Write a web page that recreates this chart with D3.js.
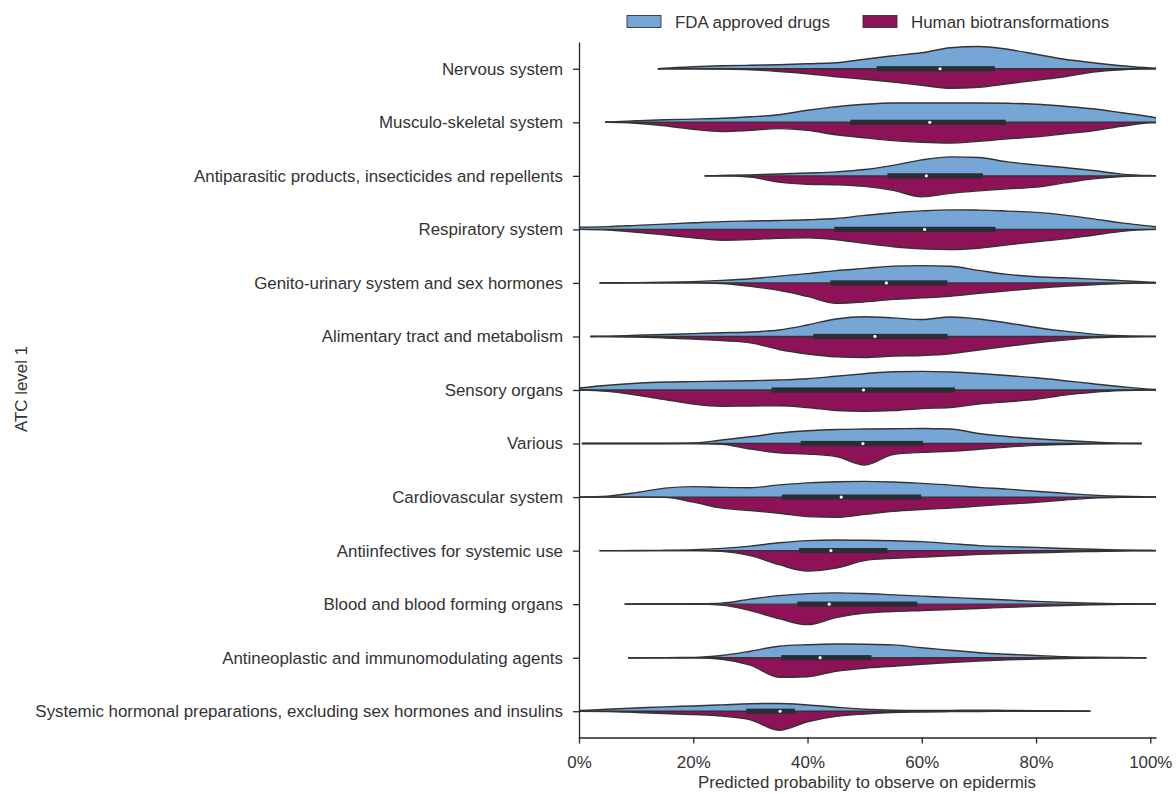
<!DOCTYPE html>
<html><head><meta charset="utf-8">
<script src="https://cdn.jsdelivr.net/npm/d3@7"></script>
<style>
body{margin:0;background:#fff}
svg{display:block;font-family:"Liberation Sans",Arial,sans-serif}
</style>
</head><body>
<svg id="chart" width="1176" height="794"></svg>
<script>
// ---------------- data ----------------
const categories = [
  "Nervous system",
  "Musculo-skeletal system",
  "Antiparasitic products, insecticides and repellents",
  "Respiratory system",
  "Genito-urinary system and sex hormones",
  "Alimentary tract and metabolism",
  "Sensory organs",
  "Various",
  "Cardiovascular system",
  "Antiinfectives for systemic use",
  "Blood and blood forming organs",
  "Antineoplastic and immunomodulating agents",
  "Systemic hormonal preparations, excluding sex hormones and insulins"
];
const seriesNames = ["FDA approved drugs", "Human biotransformations"];
// probability grid at which the densities were read (0%,5%,...,100%)
const gridX = [0,0.05,0.1,0.15,0.2,0.25,0.3,0.35,0.4,0.45,0.5,0.55,0.6,0.65,0.7,0.75,0.8,0.85,0.9,0.95,1.0];
// relative density (half-violin width) of FDA approved drugs
const fdaDensity = [
  [0,0,0,0.5,2,3,3.5,4,5,6,9.5,13,16,21,22.3,19.5,14.5,9.5,6,3,0.8],
  [0,0.3,1.5,2.5,3.2,4,5.5,7.5,12,15.5,18,19.3,19.3,19.3,19.3,19,18,16,13.5,9.5,5.5],
  [0,0,0,0,0,0.4,1,1.8,2.8,4,6.3,10.5,16,19,18.3,14,11,8.3,5.3,1.7,0.3],
  [2.3,2.8,4,5.3,6.6,7.8,8.4,8.9,9.6,10.9,14,16.7,18.5,19.5,19.3,18.3,17,14.3,10.5,6.5,3.3],
  [0,0.1,0.3,0.6,1.3,2.5,4.2,6.8,9.3,12.3,14.5,16.8,17.3,16.6,12.5,8.5,6.1,5.1,3.8,2.3,0.8],
  [0,0.3,1.2,2,2.8,3.7,4.4,6.5,11.5,17.5,19.7,18.6,17,19.5,17.5,13.5,9,5.3,2.3,0.7,0.1],
  [2,4.8,6.8,8,8.4,8.8,9.2,10,11.3,13.8,16.3,18.3,18.6,18,16.5,14.5,12.2,9.3,6.2,3.3,0.9],
  [0,0,0,0.1,0.5,3.5,6.8,10.5,12.8,14.1,14.5,14.8,15,14.5,10,7,4.8,3,1.5,0.2,0],
  [0,1,4.5,9,10.5,9.7,9.4,12.2,14.2,15.4,15.7,15.1,13.7,12,9.7,8,5.8,3.8,2,0.8,0.2],
  [0,0,0.1,0.3,0.8,2.2,4.5,7.8,10,10.6,10.3,9.8,9,7,5,4,3.2,2.1,1.3,0.7,0.3],
  [0,0,0.1,0.2,0.4,1,5,8.5,10.5,11.3,10.6,9.3,8,6.8,5.4,4.1,2.8,1.8,0.9,0.4,0.2],
  [0,0,0,0.1,0.3,2.2,6.5,11.5,13,13.7,13.5,12.8,10,7.5,5,3.4,2.2,1,0.4,0.2,0],
  [0.7,2,3.2,4.4,5.3,6.4,7.5,7.8,6.3,4,2,1,0.7,0.9,1,0.9,0.6,0.3,0,0,0]
];
// relative density (half-violin width) of human biotransformations
const hbDensity = [
  [0,0,0,0,0,0.3,1,2.7,5,8,10.5,13.3,16.5,19.5,18.5,15,11.5,8,3.3,1,0],
  [0,0,1,3.5,7,9.2,8,6.3,8,12.5,15.5,18.3,20,20.7,19,16.5,14.5,11.5,8.5,4,0.5],
  [0,0,0,0,0,0,1.3,6.3,8.4,8.9,10.5,14.5,21,17.5,15,13,11.3,7,3,0.7,0],
  [0,0.7,2.8,5.5,8.3,10.8,10.2,8.8,8.4,10.3,14,17.3,19.5,20.2,18.8,15.5,12.3,9.5,5.8,2,0.2],
  [0,0,0,0,0,0.6,3.5,7.5,13.5,20.3,19,16.5,15,13.3,10.5,8,5.3,3.3,1.8,0.7,0.2],
  [0,0.2,0.6,1.5,2.7,4.2,6.3,13,17.5,20.3,21,19.6,19,17.3,13.5,9.8,6.3,3.5,1.4,0.5,0.1],
  [0,1.3,5,9.5,14,16.2,16,15.8,17.5,20.5,21.2,20.5,18.5,17.5,14,11.8,9.3,5,2.2,0.5,0],
  [0,0,0,0,0,0.7,5.5,9.3,10.5,13,21.5,11,8.8,7.8,5.8,3.5,1.8,0.9,0.3,0,0],
  [0,0,0,0.3,5,11,13.4,16.2,19.5,20.3,17.3,14.2,12.4,11,9,7,5.3,2.9,1,0.2,0],
  [0,0,0,0,0,0.8,5,14,20.5,17.5,10,7.7,6.5,5.2,3.8,2.9,2.2,1.4,0.9,0.4,0.1],
  [0,0,0,0,0,1,6.5,14.5,20.5,13.5,9,7.3,6.3,5.3,4.3,3.2,2.2,1.3,0.6,0.2,0],
  [0,0,0,0,0,1.5,7.5,19.5,19,13.5,10.5,8.5,6.5,4.8,3.3,2.2,1.4,0.8,0.4,0.1,0],
  [0,0.2,1.2,2.4,3.3,4.8,8.5,19,10.5,5.2,2.8,1.3,0.8,0.4,0.2,0.1,0,0,0,0,0]
];
// support of each violin (where the outline meets the centre line)
const violinLo = [0.138,0.046,0.22,-0.05,0.036,0.02,-0.05,0.005,0.0,0.036,0.08,0.086,-0.03];
const violinHi = [1.03,1.05,1.03,1.05,1.03,1.02,1.03,0.985,1.02,1.03,1.03,0.993,0.895];
// inner box: quartiles and median
const boxQ1     = [0.521,0.475,0.540,0.447,0.440,0.410,0.337,0.388,0.355,0.385,0.382,0.354,0.293];
const boxMedian = [0.632,0.614,0.608,0.605,0.538,0.518,0.498,0.497,0.459,0.441,0.438,0.422,0.352];
const boxQ3     = [0.728,0.747,0.707,0.729,0.645,0.645,0.658,0.602,0.599,0.540,0.592,0.512,0.378];
const xTicks = [0,0.2,0.4,0.6,0.8,1.0];

// ---------------- drawing ----------------
const colors = ["#76a6d6", "#8e1257"];
const edge = "#333333";
const textColor = "#333333";
const fontSize = 16.9;
const xMin = 0, xMax = 1.01;

const svg = d3.select("#chart");
const x = d3.scaleLinear().domain([xMin, xMax]).range([579, 1156]);
const y = d3.scalePoint().domain(categories).range([42, 738]).padding(0.5);
const w = d3.scaleLinear().domain([0, 22]).range([0, 22]);

// build the half-violin points (one row of densities), clipped to the visible x range
function halfPoints(i, row) {
  const lo = violinLo[i], hi = violinHi[i];
  const raw = [[lo, 0]];
  gridX.forEach((gx, k) => { if (gx > lo && gx < hi) raw.push([gx, row[k]]); });
  raw.push([hi, 0]);
  const out = [];
  for (let k = 0; k < raw.length; k++) {
    const p = raw[k];
    if (p[0] >= xMin && p[0] <= xMax) out.push(p);
    if (k < raw.length - 1) {
      const q = raw[k + 1];
      if (p[0] < xMax && q[0] > xMax) {
        const t = (xMax - p[0]) / (q[0] - p[0]);
        out.push([xMax, p[1] + t * (q[1] - p[1])]);
      }
      if (p[0] < xMin && q[0] > xMin) {
        const t = (xMin - p[0]) / (q[0] - p[0]);
        out.push([xMin, p[1] + t * (q[1] - p[1])]);
      }
    }
  }
  return out;
}

const plot = svg.append("g");
categories.forEach((cat, i) => {
  const cy = y(cat);
  [fdaDensity[i], hbDensity[i]].forEach((row, s) => {
    const sign = s === 0 ? -1 : 1;
    const pts = halfPoints(i, row);
    const area = d3.area()
      .x(d => x(d[0]))
      .y0(cy)
      .y1(d => cy + sign * w(d[1]))
      .curve(d3.curveMonotoneX);
    const outline = d3.line()
      .x(d => x(d[0]))
      .y(d => cy + sign * w(d[1]))
      .curve(d3.curveMonotoneX);
    plot.append("path").datum(pts).attr("d", area)
      .attr("fill", colors[s]).attr("stroke", "none");
    plot.append("path").datum(pts).attr("d", outline)
      .attr("fill", "none").attr("stroke", edge)
      .attr("stroke-width", 1.4).attr("stroke-linejoin", "round");
  });
  // centre line where the halves meet
  plot.append("line")
    .attr("x1", x(Math.max(violinLo[i], xMin))).attr("x2", x(Math.min(violinHi[i], xMax)))
    .attr("y1", cy).attr("y2", cy)
    .attr("stroke", edge).attr("stroke-width", 1.4);
});

// inner boxes
const boxes = svg.append("g");
categories.forEach((cat, i) => {
  const cy = y(cat);
  boxes.append("rect")
    .attr("x", x(boxQ1[i])).attr("y", cy - 2.6)
    .attr("width", x(boxQ3[i]) - x(boxQ1[i])).attr("height", 5.2)
    .attr("fill", "#2c2c34");
  boxes.append("circle")
    .attr("cx", x(boxMedian[i])).attr("cy", cy).attr("r", 1.6)
    .attr("fill", "#ffffff");
});

// axes
const xAxis = svg.append("g").attr("transform", "translate(0,737.5)")
  .call(d3.axisBottom(x).tickValues(xTicks).tickFormat(d3.format(".0%")).tickSize(6).tickPadding(13).tickSizeOuter(0));
const yAxis = svg.append("g").attr("transform", "translate(579,0)")
  .call(d3.axisLeft(y).tickSize(6).tickPadding(10).tickSizeOuter(0));
[xAxis, yAxis].forEach(g => {
  g.select(".domain").attr("stroke", "#262626").attr("stroke-width", 1.3);
  g.selectAll(".tick line").attr("stroke", "#262626").attr("stroke-width", 1.3);
  g.selectAll(".tick text").attr("fill", textColor).style("font-size", fontSize + "px")
    .style("font-family", '"Liberation Sans", Arial, sans-serif');
});

// axis titles
svg.append("text").attr("x", 867).attr("y", 788).attr("text-anchor", "middle")
  .attr("fill", textColor).style("font-size", fontSize + "px")
  .text("Predicted probability to observe on epidermis");
svg.append("text").attr("transform", "translate(27,389) rotate(-90)").attr("text-anchor", "middle")
  .attr("fill", textColor).style("font-size", fontSize + "px")
  .text("ATC level 1");

// legend
const legendX = [627, 863];
seriesNames.forEach((name, s) => {
  svg.append("rect").attr("x", legendX[s]).attr("y", 15.5).attr("width", 34).attr("height", 12)
    .attr("fill", colors[s]).attr("stroke", edge).attr("stroke-width", 0.9);
  svg.append("text").attr("x", legendX[s] + 48).attr("y", 27.5)
    .attr("fill", textColor).style("font-size", fontSize + "px").text(name);
});
</script>
</body></html>
